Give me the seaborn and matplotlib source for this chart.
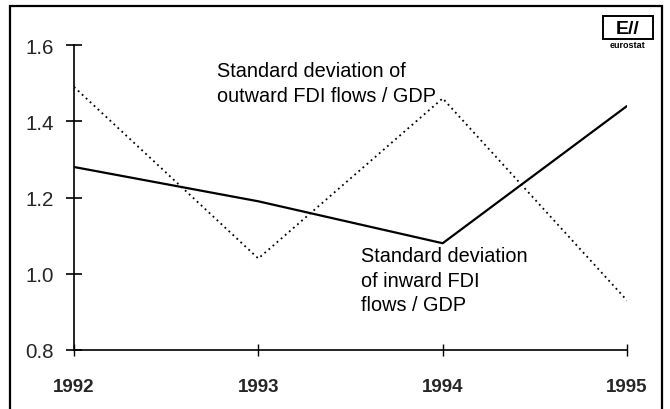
import pandas as pd
import matplotlib
matplotlib.use('Agg')
import matplotlib.pyplot as plt
from matplotlib.patches import Rectangle
import seaborn as sns

# --- data ---
years = [1992, 1993, 1994, 1995]
inward_sd = [1.28, 1.19, 1.08, 1.44]
outward_sd = [1.49, 1.04, 1.46, 0.93]
y_ticks = [0.8, 1.0, 1.2, 1.4, 1.6]

df = pd.DataFrame({
    'year': years * 2,
    'sd': inward_sd + outward_sd,
    'series': ['inward'] * len(years) + ['outward'] * len(years),
})

# --- style ---
sns.set_theme(style="white")
plt.rcParams['font.family'] = ['Liberation Sans', 'DejaVu Sans']

fig = plt.figure(figsize=(6.7, 4.1), dpi=100)
ax = fig.add_axes([74 / 670, 1 - 351 / 410, (627 - 74) / 670, (351 - 46) / 410])

sns.lineplot(data=df[df['series'] == 'inward'], x='year', y='sd', ax=ax,
             color='black', linewidth=1.6, legend=False)
sns.lineplot(data=df[df['series'] == 'outward'], x='year', y='sd', ax=ax,
             color='black', linewidth=1.3, linestyle=(0, (1, 2)), legend=False)

ax.set_xlim(years[0], years[-1])
ax.set_ylim(y_ticks[0], y_ticks[-1])
ax.set_xticks(years)
ax.set_yticks(y_ticks)
ax.set_yticklabels([f"{v:.1f}" for v in y_ticks])
ax.set_xlabel('')
ax.set_ylabel('')

for side in ['top', 'right']:
    ax.spines[side].set_visible(False)
for side in ['left', 'bottom']:
    ax.spines[side].set_color('black')
    ax.spines[side].set_linewidth(1.2)

ax.tick_params(axis='y', direction='inout', length=11, width=1.2, color='black',
               labelsize=14.8, pad=9, left=True)
ax.tick_params(axis='x', direction='inout', length=8, width=1.0, color='black',
               labelsize=13.5, pad=16, bottom=True)
for lab in ax.get_xticklabels():
    lab.set_fontweight('bold')

# --- annotations ---
ax.text(1992.775, 1.557, "Standard deviation of\noutward FDI flows / GDP",
        fontsize=14.3, ha='left', va='top', color='black', linespacing=1.35)
ax.text(1993.555, 1.072, "Standard deviation\nof inward FDI\nflows / GDP",
        fontsize=14.3, ha='left', va='top', color='black', linespacing=1.35)

# --- outer frame ---
fig.patches.append(Rectangle((10 / 670, -0.05), (662 - 10) / 670, 1.05 - 7 / 410,
                             transform=fig.transFigure, fill=False,
                             edgecolor='black', linewidth=1.6))

# --- eurostat logo (approximation) ---
fig.patches.append(Rectangle((603 / 670, 1 - 40 / 410), 50 / 670, 23 / 410,
                             transform=fig.transFigure, fill=False,
                             edgecolor='black', linewidth=1.4))
fig.text(628 / 670, 1 - 29 / 410, "E//", fontsize=14, fontweight='bold',
         ha='center', va='center', color='black')
fig.text(628 / 670, 1 - 45 / 410, "eurostat", fontsize=6.5, fontweight='bold',
         ha='center', va='center', color='black')

plt.savefig('out.png', dpi=100)
